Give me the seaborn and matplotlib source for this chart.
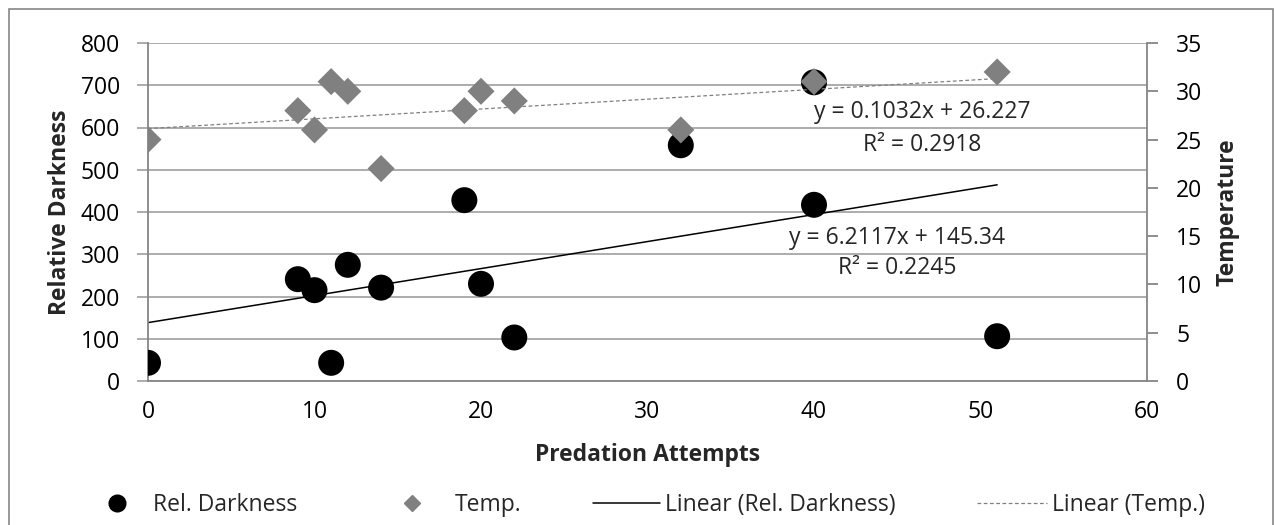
import numpy as np
import pandas as pd
import seaborn as sns
import matplotlib.pyplot as plt
from matplotlib.lines import Line2D
from matplotlib.patches import Rectangle

# data
dark_attempts = [0, 9, 10, 11, 12, 14, 19, 20, 22, 32, 40, 40, 51]
rel_darkness = [43, 241, 215, 43, 275, 221, 428, 230, 103, 558, 417, 707, 106]

temp_attempts = [0, 9, 10, 11, 12, 14, 19, 20, 22, 32, 40, 51]
temperature = [25, 28, 26, 31, 30, 22, 28, 30, 29, 26, 31, 32]

x_ticks = [0, 10, 20, 30, 40, 50, 60]
left_ticks = [0, 100, 200, 300, 400, 500, 600, 700, 800]
right_ticks = [0, 5, 10, 15, 20, 25, 30, 35]

dark_df = pd.DataFrame({'Attempts': dark_attempts, 'Darkness': rel_darkness})
temp_df = pd.DataFrame({'Attempts': temp_attempts, 'Temp': temperature})

sns.set_style('white')
plt.rcParams['font.family'] = ['Open Sans', 'DejaVu Sans']

fs = 16.5
grid_clr = '#A6A6A6'
axis_clr = '#868686'
temp_clr = '#808080'

W, H = 1274, 525
fig = plt.figure(figsize=(W / 100, H / 100), dpi=100)
ax = fig.add_axes([148 / W, 1 - 381 / H, (1147 - 148) / W, 338 / H])
ax2 = ax.twinx()

# Rel. Darkness
sns.regplot(data=dark_df, x='Attempts', y='Darkness', ax=ax, scatter=False, ci=None,
            truncate=True, line_kws={'color': 'black', 'lw': 1.1, 'zorder': 2})
sns.scatterplot(data=dark_df, x='Attempts', y='Darkness', ax=ax, color='black',
                s=350, edgecolor='none', zorder=3)

# Temperature
sns.regplot(data=temp_df, x='Attempts', y='Temp', ax=ax2, scatter=False, ci=None,
            truncate=True, line_kws={'color': temp_clr, 'lw': 0.9, 'dashes': (3, 2)})
sns.scatterplot(data=temp_df, x='Attempts', y='Temp', ax=ax2, color=temp_clr,
                marker='D', s=190, edgecolor='none', zorder=4)

ax.set_xlim(0, 60)
ax.set_ylim(0, 800)
ax2.set_ylim(0, 35)
ax.set_xticks(x_ticks)
ax.set_yticks(left_ticks)
ax2.set_yticks(right_ticks)

ax.grid(axis='y', color=grid_clr, lw=1.3)
ax.set_axisbelow(True)
ax2.grid(False)

for a in (ax, ax2):
    a.spines['top'].set_visible(False)
    for side in ('left', 'right', 'bottom'):
        a.spines[side].set_color(axis_clr)
        a.spines[side].set_linewidth(1.3)
ax.spines['right'].set_visible(False)
ax2.spines['left'].set_visible(False)
ax2.spines['bottom'].set_visible(False)

ax.tick_params(axis='x', direction='out', length=7, width=1.3, color=axis_clr,
               labelsize=fs, labelcolor='black', pad=7)
ax.tick_params(axis='y', direction='out', length=8, width=1.3, color=grid_clr,
               labelsize=fs, labelcolor='black', pad=12)
ax2.tick_params(axis='y', direction='out', length=8, width=1.3, color=axis_clr,
                labelsize=fs, labelcolor='black', pad=13)

ax.set_xlabel('Predation Attempts', fontsize=fs, fontweight='bold', va='center')
ax.set_ylabel('Relative Darkness', fontsize=fs, fontweight='bold', va='center')
ax2.set_ylabel('Temperature', fontsize=fs, fontweight='bold', va='center')
ax.xaxis.set_label_coords(0.5, -(455 - 381) / 338)
ax.yaxis.set_label_coords((60 - 148) / 999, 0.5)
ax2.yaxis.set_label_coords(1 + (1227 - 1147) / 999, 0.5)

# trendline equations
ax.text(46.5, 637, 'y = 0.1032x + 26.227', ha='center', va='center', fontsize=fs)
ax.text(46.5, 559, 'R² = 0.2918', ha='center', va='center', fontsize=fs)
ax.text(45.0, 339, 'y = 6.2117x + 145.34', ha='center', va='center', fontsize=fs)
ax.text(45.0, 268, 'R² = 0.2245', ha='center', va='center', fontsize=fs)

# legend, one entry at a time to follow the Excel spacing
fpx = fs * 100 / 72
entries = [
    (Line2D([], [], ls='none', marker='o', color='black', markersize=12),
     'Rel. Darkness', 117 - fpx / 2, 1.0, (153 - 117 - fpx / 2) / fpx),
    (Line2D([], [], ls='none', marker='D', color=temp_clr, markersize=8.5),
     'Temp.', 412 - fpx / 2, 1.0, (455 - 412 - fpx / 2) / fpx),
    (Line2D([], [], color='black', lw=1.1),
     'Linear (Rel. Darkness)', 593, 67 / fpx, 5 / fpx),
    (Line2D([], [], color=temp_clr, lw=0.9, dashes=(3, 2)),
     'Linear (Temp.)', 977, 70 / fpx, 5 / fpx),
]
for handle, label, x0, hl, pad in entries:
    fig.legend([handle], [label], loc='center left', bbox_to_anchor=(x0 / W, 1 - 505 / H),
               frameon=False, fontsize=fs, handlelength=hl, handletextpad=pad,
               borderpad=0, borderaxespad=0)

# chart frame
fig.patches.append(Rectangle((9 / W, -0.01), (1272.5 - 9) / W, 1.01 - 9 / H,
                             transform=fig.transFigure, fill=False,
                             edgecolor=axis_clr, lw=1.2))

fig.savefig('out.png', dpi=100)
